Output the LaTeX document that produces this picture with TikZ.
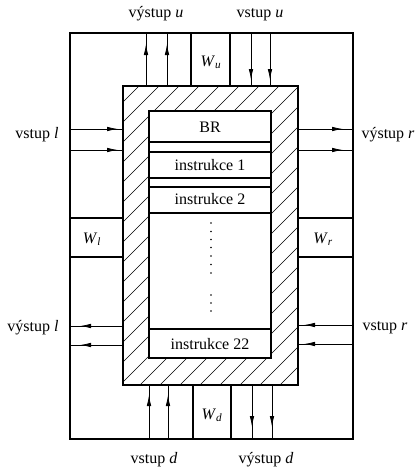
\documentclass[tikz,border=0pt]{standalone}
\usepackage{fontspec}
\setmainfont{Liberation Serif}
\usetikzlibrary{arrows.meta}
\begin{document}
\begin{tikzpicture}[x=1pt,y=-1pt,
  lbl/.style={font=\fontsize{16}{19}\selectfont, inner sep=0pt, anchor=base},
  frameline/.style={line width=1.8pt},
  rowline/.style={line width=1.6pt},
  outerline/.style={line width=1.1pt},
  sig/.style={line width=0.8pt},
  tipline/.style={line width=0.8pt, -{Latex[length=11pt,width=4.5pt]}},
  hatchline/.style={line width=0.6pt},
  dotmark/.style={fill, circle, inner sep=0pt, minimum size=1.8pt}]
\useasboundingbox (0,0) rectangle (415,472);

% outer rectangle
\draw[outerline] (70,33) rectangle (353,439);

% hatched frame
\begin{scope}
  \clip (123,86) rectangle (298,385);
  \foreach \i in {-300,-280,...,300} \draw[hatchline] (\i,385) -- ++(300,-300);
\end{scope}
\fill[white] (149,111) rectangle (271,358);
\draw[frameline] (123,86) rectangle (298,385);

% inner box with rows
\draw[frameline] (149,111) rectangle (271,358);
\foreach \y in {142,152,178,187,213,329} \draw[rowline] (149,\y) -- (271,\y);

\node[lbl] (br) at (210,132) {BR};
\node[lbl] (i1) at (210,170) {instrukce 1};
\node[lbl] (i2) at (210,204) {instrukce 2};
\node[lbl] (i22) at (210,349) {instrukce 22};
\foreach \y [count=\k] in {223,231.5,239.5,247.5,256,264.5,273,295,303,311}
  \node[dotmark] (d\k) at (211,\y) {};

% W boxes
\draw[frameline] (191,33) -- (191,86) (230,33) -- (230,86);
\draw[frameline] (193,385) -- (193,439) (231,385) -- (231,439);
\draw[rowline] (70,218) -- (123,218) (70,257) -- (123,257);
\draw[rowline] (298,218) -- (353,218) (298,257) -- (353,257);
\node[lbl] (wu) at (211,66) {\textit{W}\textsubscript{\textit{u}}};
\node[lbl] (wl) at (92,243) {\textit{W}\textsubscript{\textit{l}}};
\node[lbl] (wr) at (323,243) {\textit{W}\textsubscript{\textit{r}}};
\node[lbl] (wd) at (212,419) {\textit{W}\textsubscript{\textit{d}}};

% top arrows
\foreach \x in {146,167} {\draw[sig] (\x,86) -- (\x,33); \draw[tipline] (\x,62) -- (\x,44);}
\foreach \x in {251,270} {\draw[sig] (\x,33) -- (\x,86); \draw[tipline] (\x,60) -- (\x,80);}
% left arrows
\foreach \y in {129,150} {\draw[sig] (70,\y) -- (123,\y); \draw[tipline] (95,\y) -- (118,\y);}
\foreach \y in {326,345} {\draw[sig] (123,\y) -- (70,\y); \draw[tipline] (100,\y) -- (80,\y);}
% right arrows
\foreach \y in {129,150} {\draw[sig] (298,\y) -- (353,\y); \draw[tipline] (320,\y) -- (343,\y);}
\foreach \y in {325,344} {\draw[sig] (353,\y) -- (298,\y); \draw[tipline] (328,\y) -- (304,\y);}
% bottom arrows
\foreach \x in {149,168} {\draw[sig] (\x,439) -- (\x,385); \draw[tipline] (\x,418) -- (\x,395);}
\foreach \x in {252,272} {\draw[sig] (\x,385) -- (\x,439); \draw[tipline] (\x,405) -- (\x,427);}

% labels
\node[lbl] (vyu) at (156,17) {výstup \textit{u}};
\node[lbl] (vsu) at (260,17) {vstup \textit{u}};
\node[lbl] (vsl) at (37,138) {vstup \textit{l}};
\node[lbl] (vyr) at (388,138) {výstup \textit{r}};
\node[lbl] (vyl) at (33,331) {výstup \textit{l}};
\node[lbl] (vsr) at (385,330) {vstup \textit{r}};
\node[lbl] (vsd) at (154,463) {vstup \textit{d}};
\node[lbl] (vyd) at (266,463) {výstup \textit{d}};
\end{tikzpicture}
\end{document}
